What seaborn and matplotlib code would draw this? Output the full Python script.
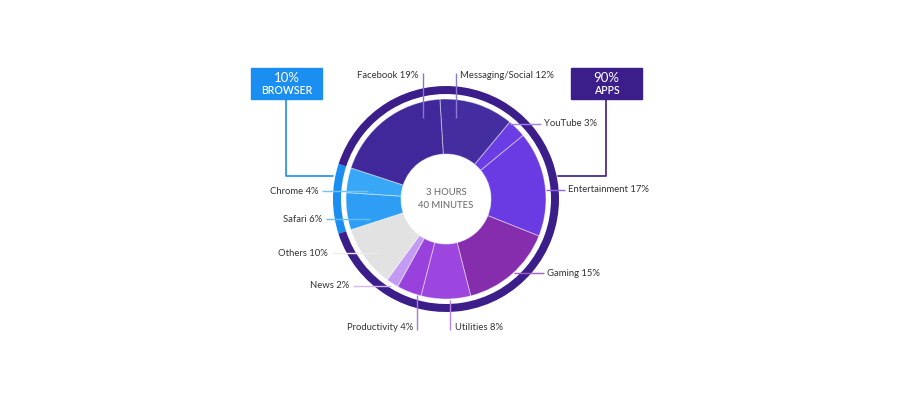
import matplotlib
matplotlib.use("Agg")
import matplotlib.pyplot as plt
import seaborn as sns

# ---------------- data ----------------
categories = ["Messaging/Social", "YouTube", "Entertainment", "Gaming", "Utilities",
              "Productivity", "News", "Others", "Safari", "Chrome", "Facebook"]
shares = [12, 3, 17, 15, 8, 4, 2, 10, 6, 4, 19]
groups = ["APPS", "APPS", "APPS", "APPS", "APPS", "APPS", "APPS", "APPS",
          "BROWSER", "BROWSER", "APPS"]
group_names = ["BROWSER", "APPS"]
group_shares = [10, 90]
center_text = "3 HOURS\n40 MINUTES"

# ---------------- styles ----------------
slice_colors = ["#442e9f", "#6b3de4", "#6a3ae2", "#862dae", "#9c46df",
                "#9841dc", "#c39bf4", "#e2e2e2", "#2e9ef4", "#37a7f6", "#40289a"]
line_colors = ["#8c7ad8", "#9d7ff0", "#8d62ea", "#a25ec6", "#b683ea",
               "#ad76e4", "#d3b8f8", "#ececec", "#66bdf8", "#70c2f8", "#8a72d6"]
group_colors = ["#1b8ef1", "#3b1e8a"]

sns.set_theme(style="white")
plt.rcParams["font.family"] = ["Lato", "DejaVu Sans"]

W, H = 900, 400
fig = plt.figure(figsize=(9, 4), dpi=100)
ax = fig.add_axes([0, 0, 1, 1])

def Y(y):
    return H - y

CX, CY = 446, Y(199)
R_OUT, HOLE = 100, 45
RING_R, RING_W = 113, 8
start = 93.5

# main donut
ax.pie(shares, colors=slice_colors, startangle=start, counterclock=False,
       radius=R_OUT, center=(CX, CY),
       wedgeprops=dict(width=R_OUT - HOLE, edgecolor=(1, 1, 1, 0.45), linewidth=0.7))

# outer ring: rotate so that browser share aligns with its slices
before = 0
for s, g in zip(shares, groups):
    if g == "BROWSER":
        break
    before += s
ring_start = start - before / sum(shares) * 360
ax.pie(group_shares, colors=group_colors, startangle=ring_start, counterclock=False,
       radius=RING_R, center=(CX, CY),
       wedgeprops=dict(width=RING_W, edgecolor="none", linewidth=0))

# center text
ax.text(CX, CY, center_text, ha="center", va="center", fontsize=6.8,
        color="#666666", linespacing=1.45)

# label layout: (text x, text y, ha, line points)
layout = [
    (460, 76, "left", [(456, 73), (456, 118)]),
    (544, 124, "left", [(510, 124), (541, 124)]),
    (568, 190, "left", [(546, 190), (565, 190)]),
    (547, 273, "left", [(514, 273), (544, 273)]),
    (455, 327, "left", [(450, 300), (450, 330)]),
    (413, 327, "right", [(417, 295), (417, 330)]),
    (349, 286, "right", [(353, 286), (391, 286)]),
    (328, 253, "right", [(332, 253), (377, 253)]),
    (322, 219, "right", [(326, 219), (370, 219)]),
    (318, 191, "right", [(322, 191), (368, 191)]),
    (418, 76, "right", [(423, 73), (423, 118)]),
]
for cat, val, lc, (tx, ty, ha, pts) in zip(categories, shares, line_colors, layout):
    xs = [p[0] for p in pts]
    ys = [Y(p[1]) for p in pts]
    ax.plot(xs, ys, color=lc, lw=1.0, solid_capstyle="butt", zorder=5)
    ax.text(tx, Y(ty), f"{cat} {val}%", ha=ha, va="center", fontsize=6.8,
            color="#333333", zorder=6)

# group boxes
boxes = [
    (251, 68, 71, 31, [(286, 99), (286, 176), (333, 176)]),
    (571, 68, 71, 31, [(606, 99), (606, 176), (558, 176)]),
]
for name, val, col, (bx, by, bw, bh, pts) in zip(group_names, group_shares, group_colors, boxes):
    ax.add_patch(plt.Rectangle((bx, Y(by + bh)), bw, bh, color=col, zorder=4))
    ax.plot([p[0] for p in pts], [Y(p[1]) for p in pts], color=col, lw=1.2, zorder=3)
    ax.text(bx + bw / 2, Y(by + 9.5), f"{val}%", ha="center", va="center",
            fontsize=9.5, color="white", zorder=6)
    ax.text(bx + bw / 2, Y(by + 23), name, ha="center", va="center",
            fontsize=7.6, color="white", fontweight="semibold", zorder=6)

ax.set_xlim(0, W)
ax.set_ylim(0, H)
ax.set_aspect("equal")
ax.axis("off")
fig.savefig("out.png", dpi=100, facecolor="white")
